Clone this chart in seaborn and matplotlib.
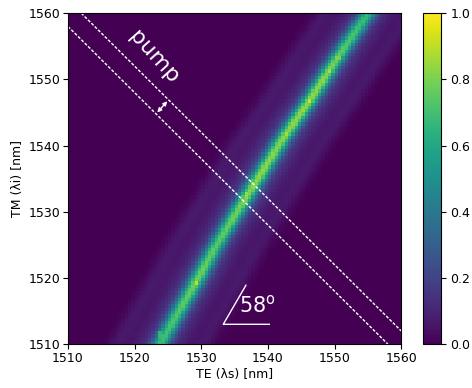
import numpy as np
import pandas as pd
import matplotlib
matplotlib.use("Agg")
import matplotlib.pyplot as plt
import seaborn as sns

# ---- data ----
ridge_tm = [1505.0, 1510.0, 1519.4, 1525.0, 1532.5, 1535.5, 1540.4, 1546.9, 1553.4, 1560.0, 1565.0]
ridge_te = [1520.6, 1523.8, 1529.2, 1532.3, 1536.9, 1538.8, 1541.8, 1546.3, 1550.5, 1555.0, 1558.2]
core_tm = [1505, 1510, 1515, 1520, 1525, 1530, 1535, 1540, 1545, 1550, 1555, 1560, 1565]
core_peak = [0.42, 0.52, 0.56, 0.60, 0.56, 0.60, 0.64, 0.62, 0.64, 0.64, 0.56, 0.50, 0.45]
halo_peak = [0.15, 0.17, 0.18, 0.19, 0.18, 0.19, 0.20, 0.20, 0.20, 0.19, 0.18, 0.17, 0.16]
spot_te = [1523.9, 1526.6, 1529.2, 1531.0, 1533.6, 1536.9, 1538.8, 1540.2, 1541.8, 1542.9, 1544.1, 1546.3, 1548.0, 1549.3, 1550.5, 1553.0]
spot_tm = [1511.5, 1515.5, 1519.4, 1522.5, 1527.0, 1532.5, 1535.5, 1538.0, 1540.4, 1541.9, 1543.4, 1546.9, 1549.0, 1551.4, 1553.4, 1557.5]
spot_val = [0.78, 0.75, 0.95, 0.75, 0.80, 1.00, 0.90, 0.78, 0.85, 0.95, 0.85, 0.97, 0.82, 0.92, 0.95, 0.72]
x_ticks = [1510, 1520, 1530, 1540, 1550, 1560]
y_ticks = [1510, 1520, 1530, 1540, 1550, 1560]
pump_upper_sum = 3072.0   # TE + TM along upper dashed line
pump_lower_sum = 3068.0   # TE + TM along lower dashed line

# ---- build grid ----
step = 0.5
te_c = np.arange(1510 + step / 2, 1560, step)
tm_c = np.arange(1560 - step / 2, 1510, -step)          # top row = 1560
TE, TM = np.meshgrid(te_c, tm_c)
center = np.interp(TM, ridge_tm, ridge_te)
d = TE - center
peak = np.interp(TM, core_tm, core_peak)
halo = np.interp(TM, core_tm, halo_peak)
Z = peak * np.exp(-d**2 / (2 * 0.9**2)) + halo * np.exp(-d**2 / (2 * 2.9**2))
Z += 0.05 * np.exp(-(np.abs(d) - 6.5)**2 / (2 * 1.0**2))
for sx, sy, sv in zip(spot_te, spot_tm, spot_val):
    Z = np.maximum(Z, sv * np.exp(-((TE - sx)**2 + (TM - sy)**2) / (2 * 0.5**2)))
Z = np.clip(Z, 0, 1)
df = pd.DataFrame(Z, index=np.round(tm_c, 2), columns=np.round(te_c, 2))

def xi(v):
    return (np.asarray(v) - 1510) / step

def yi(v):
    return (1560 - np.asarray(v)) / step

# ---- figure ----
fig = plt.figure(figsize=(4.72, 3.88), dpi=100)
ax = fig.add_axes([0.144, 0.113, 0.706, 0.853])
cax = fig.add_axes([0.896, 0.113, 0.038, 0.853])
sns.heatmap(df, ax=ax, cbar_ax=cax, cmap="viridis", vmin=0, vmax=1,
            xticklabels=False, yticklabels=False, rasterized=True)

ax.set_xticks(xi(x_ticks))
ax.set_xticklabels([str(v) for v in x_ticks], rotation=0, fontsize=9)
ax.set_yticks(yi(y_ticks))
ax.set_yticklabels([str(v) for v in y_ticks], rotation=0, fontsize=9)
ax.tick_params(length=3.5, width=0.8, color="black", pad=2)
ax.set_xlabel("TE (λs) [nm]", fontsize=9, labelpad=2)
ax.set_ylabel("TM (λi) [nm]", fontsize=9, labelpad=3)
for s in ax.spines.values():
    s.set_visible(True)
    s.set_color("black")
    s.set_linewidth(0.8)

# pump dashed lines
for ssum in (pump_upper_sum, pump_lower_sum):
    te_line = np.array([max(1510, ssum - 1560), min(1560, ssum - 1510)])
    tm_line = ssum - te_line
    ax.plot(xi(te_line), yi(tm_line), color="white", lw=1.0, dashes=(2.2, 1.2))

ax.annotate("", xy=(xi(1524.9), yi(1546.7)), xytext=(xi(1523.4), yi(1545.0)),
            arrowprops=dict(arrowstyle="<|-|>", color="white", lw=1.0,
                            mutation_scale=6, shrinkA=0, shrinkB=0))
ax.text(xi(1522.9), yi(1553.3), "pump", color="white", fontsize=16,
        rotation=-48, ha="center", va="center", rotation_mode="anchor")

# 58° angle mark
ax.plot(xi([1536.7, 1533.3, 1540.2]), yi([1518.9, 1513.0, 1513.0]), color="white", lw=1.0)
ax.text(xi(1535.6), yi(1515.9), r"58$^{\mathrm{o}}$", color="white", fontsize=15,
        ha="left", va="center")

cbar = ax.collections[0].colorbar
cbar.set_ticks([0.0, 0.2, 0.4, 0.6, 0.8, 1.0])
cbar.ax.tick_params(labelsize=9, length=3.5, width=0.8)
cbar.outline.set_visible(True)
cbar.outline.set_edgecolor("black")
cbar.outline.set_linewidth(0.8)

fig.savefig("out.png", dpi=100)
